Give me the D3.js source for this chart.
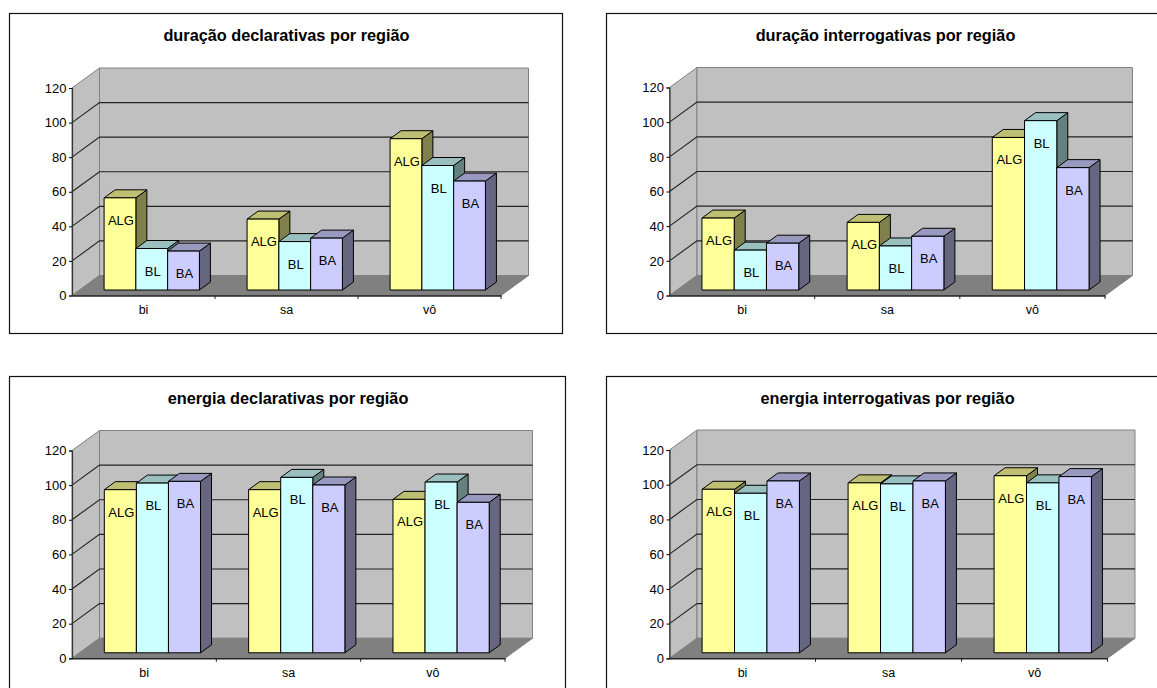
<!DOCTYPE html>
<html lang="pt">
<head>
<meta charset="utf-8">
<title>duração e energia por região</title>
<style>
  html, body { margin: 0; padding: 0; background: #fff; overflow: hidden; }
  svg { display: block; font-family: "Liberation Sans", Arial, sans-serif; }
</style>
<script src="https://cdn.jsdelivr.net/npm/d3@7/dist/d3.min.js"></script>
</head>
<body>
<svg id="chart" width="1157" height="688"></svg>
<script>
const categories = ["bi", "sa", "vô"];
const regions = ["ALG", "BL", "BA"];
const yTicks = [0, 20, 40, 60, 80, 100, 120];

// One row per category, one value per region
const duracaoDeclarativas = [[53.3, 24, 22.5], [41, 28, 30], [87.5, 72, 63]];
const duracaoInterrogativas = [[41.5, 23, 27], [39, 25.4, 31], [88, 97.7, 70.6]];
const energiaDeclarativas = [[94.2, 98, 99], [94.2, 101.3, 96.9], [88.6, 98.6, 86.9]];
const energiaInterrogativas = [[94.2, 91.9, 99], [97.9, 97.3, 99], [102, 97.9, 101.5]];

const regionColors = {
  ALG: { front: "#ffff99", top: "#bfbf73", side: "#80804d" },
  BL: { front: "#ccffff", top: "#99bfbf", side: "#668080" },
  BA: { front: "#ccccff", top: "#9999bf", side: "#666680" }
};

// Placement of the four panels on the page
const panels = [
  { title: "duração declarativas por região", values: duracaoDeclarativas,
    frame: [9, 13, 553, 320], x0: 72, xEnd: 501, y0: 295.5, yTop: 88, titleX: 286.5, titleY: 35 },
  { title: "duração interrogativas por região", values: duracaoInterrogativas,
    frame: [606, 13, 560, 320], x0: 669.5, xEnd: 1105, y0: 295.5, yTop: 87.5, titleX: 885.5, titleY: 35 },
  { title: "energia declarativas por região", values: energiaDeclarativas,
    frame: [9, 376, 556, 320], x0: 72, xEnd: 505, y0: 658.3, yTop: 450.5, titleX: 288, titleY: 398 },
  { title: "energia interrogativas por região", values: energiaInterrogativas,
    frame: [606, 376, 560, 320], x0: 669.5, xEnd: 1107.5, y0: 658.3, yTop: 450, titleX: 887.5, titleY: 398 }
];

// Oblique projection: how far the back wall sits from the front plane, and the bar depth
const wallDx = 27.5, wallDy = 20;
const barDx = 11, barDy = 8;
const insetDx = (wallDx - barDx) / 2, insetDy = 5.5;

const svg = d3.select("#chart");
const polygon = pts => pts.map(p => p.join(",")).join(" ");

panels.forEach(panel => {
  const g = svg.append("g");
  const [fx, fy, fw, fh] = panel.frame;
  const { x0, xEnd, y0, yTop } = panel;

  const y = d3.scaleLinear().domain([0, 120]).range([y0, yTop]);
  const xCat = d3.scaleBand().domain(categories).range([x0, xEnd]).paddingInner(1 / 3).paddingOuter(1 / 6);
  const xReg = d3.scaleBand().domain(regions).range([0, xCat.bandwidth()]);

  g.append("rect")
    .attr("x", fx + 0.5).attr("y", fy + 0.5)
    .attr("width", fw).attr("height", fh)
    .attr("fill", "#fff").attr("stroke", "#111").attr("stroke-width", 1.2);

  g.append("text")
    .attr("x", panel.titleX).attr("y", panel.titleY)
    .attr("text-anchor", "middle").attr("dominant-baseline", "central")
    .attr("font-size", 16.3).attr("font-weight", "bold").attr("fill", "#000")
    .text(panel.title);

  // Side wall, back wall and floor
  g.append("polygon")
    .attr("points", polygon([[x0, y0], [x0 + wallDx, y0 - wallDy], [x0 + wallDx, yTop - wallDy], [x0, yTop]]))
    .attr("fill", "#c0c0c0").attr("stroke", "#808080");
  g.append("polygon")
    .attr("points", polygon([[x0 + wallDx, y0 - wallDy], [xEnd + wallDx, y0 - wallDy], [xEnd + wallDx, yTop - wallDy], [x0 + wallDx, yTop - wallDy]]))
    .attr("fill", "#c0c0c0").attr("stroke", "#808080");
  g.append("polygon")
    .attr("points", polygon([[x0, y0], [xEnd, y0], [xEnd + wallDx, y0 - wallDy], [x0 + wallDx, y0 - wallDy]]))
    .attr("fill", "#808080").attr("stroke", "#808080");

  // Gridlines run along the side wall and across the back wall
  g.append("g").selectAll("polyline")
    .data(yTicks.filter(t => t > 0 && t < 120))
    .join("polyline")
    .attr("points", t => polygon([[x0, y(t)], [x0 + wallDx, y(t) - wallDy], [xEnd + wallDx, y(t) - wallDy]]))
    .attr("fill", "none").attr("stroke", "#222").attr("stroke-width", 1.1);

  // Axes
  const yAxis = g.append("g").attr("transform", `translate(${x0},0)`)
    .call(d3.axisLeft(y).tickValues(yTicks).tickSize(3).tickPadding(2.5));
  yAxis.select(".domain").attr("stroke", "#333").attr("stroke-width", 1.2);
  yAxis.selectAll("line").attr("stroke", "#000");
  yAxis.selectAll("text").attr("font-size", 13).attr("font-family", null).attr("fill", "#000");

  const xAxis = g.append("g").attr("transform", `translate(0,${y0})`)
    .call(d3.axisBottom(xCat).tickSize(0).tickPadding(9.5));
  xAxis.select(".domain").attr("stroke", "#222").attr("stroke-width", 1.6);
  xAxis.selectAll("text").attr("font-size", 12.5).attr("font-family", null).attr("fill", "#000");

  // Tick marks fall between the categories
  const tickXs = categories.map((c, i) => x0 + (i + 1) * xCat.step());
  g.append("g").selectAll("line").data(tickXs).join("line")
    .attr("x1", d => d).attr("x2", d => d)
    .attr("y1", y0).attr("y2", y0 + 3.5)
    .attr("stroke", "#222");

  // Bars, left to right so that each one covers the side of its neighbour
  const baseY = y0 - insetDy;
  const heightOf = v => y0 - y(v);
  categories.forEach((cat, ci) => {
    regions.forEach((reg, ri) => {
      const v = panel.values[ci][ri];
      const left = xCat(cat) + xReg(reg) + insetDx;
      const right = left + xReg.bandwidth();
      const top = baseY - heightOf(v);
      const col = regionColors[reg];
      const bar = g.append("g").attr("stroke", "#000").attr("stroke-width", 1).attr("stroke-linejoin", "round");

      bar.append("polygon")
        .attr("points", polygon([[right, baseY], [right + barDx, baseY - barDy], [right + barDx, top - barDy], [right, top]]))
        .attr("fill", col.side);
      bar.append("polygon")
        .attr("points", polygon([[left, top], [right, top], [right + barDx, top - barDy], [left + barDx, top - barDy]]))
        .attr("fill", col.top);
      bar.append("rect")
        .attr("x", left).attr("y", top)
        .attr("width", right - left).attr("height", baseY - top)
        .attr("fill", col.front);
    });
  });

  // Region names go on top of every bar, so they are drawn last
  categories.forEach((cat, ci) => {
    regions.forEach((reg, ri) => {
      const v = panel.values[ci][ri];
      g.append("text")
        .attr("x", xCat(cat) + xReg(reg) + insetDx + xReg.bandwidth() / 2 + 1)
        .attr("y", baseY - heightOf(v) + 22.5)
        .attr("text-anchor", "middle").attr("dominant-baseline", "central")
        .attr("font-size", 13).attr("fill", "#000")
        .text(reg);
    });
  });
});
</script>
</body>
</html>
